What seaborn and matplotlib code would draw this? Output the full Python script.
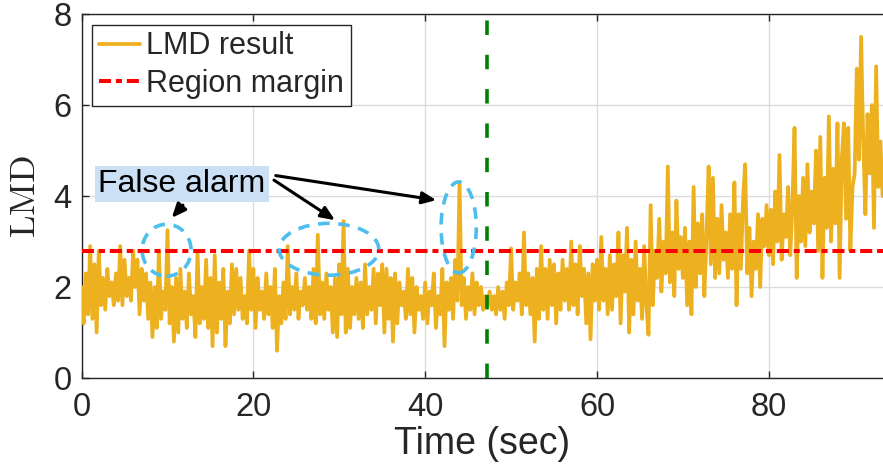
import numpy as np
import pandas as pd
import matplotlib
matplotlib.use("Agg")
import matplotlib.pyplot as plt
from matplotlib.patches import Ellipse
import seaborn as sns

# ---------------- data ----------------
sample_step = 0.25  # seconds between samples
lmd_values = [
    2.0, 1.2, 2.3, 1.4, 2.9, 1.3, 2.5, 1.0,
    2.8, 1.6, 2.2, 1.5, 2.4, 1.8, 2.1, 1.6,
    2.3, 1.7, 2.9, 1.6, 2.6, 1.8, 2.2, 1.7,
    2.8, 2.0, 2.6, 1.4, 2.4, 1.7, 2.3, 1.3,
    2.1, 0.9, 2.0, 1.1, 2.8, 1.3, 1.9, 1.5,
    3.25, 1.2, 2.0, 0.8, 2.2, 1.0, 2.4, 1.3,
    1.9, 1.1, 2.3, 1.4, 1.8, 0.9, 2.8, 1.2,
    2.0, 1.3, 2.6, 1.1, 2.2, 0.7, 2.7, 1.0,
    2.1, 1.3, 2.4, 0.7, 1.9, 1.2, 2.5, 1.4,
    2.4, 1.5, 2.2, 1.3, 1.8, 1.2, 2.8, 1.5,
    2.4, 1.1, 2.2, 1.5, 1.9, 1.3, 2.3, 1.4,
    2.0, 1.1, 2.4, 0.6, 1.8, 1.2, 2.1, 1.3,
    2.9, 1.4, 2.0, 1.5, 2.3, 1.3, 1.9, 1.6,
    2.2, 1.5, 2.0, 1.3, 2.4, 1.2, 3.15, 1.4,
    2.1, 1.3, 2.3, 1.5, 2.0, 1.0, 2.2, 0.9,
    2.5, 1.4, 3.45, 1.0, 2.4, 1.1, 2.0, 1.4,
    2.2, 1.3, 2.1, 1.1, 2.5, 1.4, 2.0, 1.5,
    2.4, 1.2, 2.3, 1.6, 2.5, 1.0, 2.4, 1.3,
    2.2, 0.8, 2.3, 1.2, 2.1, 1.6, 1.9, 1.3,
    2.4, 1.4, 2.2, 1.0, 2.0, 1.5, 1.8, 1.3,
    2.1, 1.2, 1.9, 1.6, 2.3, 1.1, 1.8, 1.4,
    2.4, 0.7, 2.1, 1.5, 2.2, 1.3, 2.6, 1.7,
    4.3, 1.6, 2.2, 1.3, 2.0, 1.5, 2.3, 1.4,
    2.1, 1.6, 2.0, 1.5, 1.8, 1.6, 1.9, 1.5,
    1.8, 1.4, 2.0, 1.5, 1.9, 1.3, 2.1, 1.6,
    2.85, 1.5, 2.1, 1.7, 2.3, 1.4, 3.2, 1.6,
    2.3, 1.4, 2.2, 0.8, 2.4, 1.3, 2.9, 1.5,
    2.4, 1.3, 2.6, 1.6, 2.5, 1.2, 2.3, 1.5,
    2.6, 1.7, 2.4, 1.5, 3.0, 1.6, 2.5, 1.4,
    2.9, 1.8, 2.4, 1.2, 2.3, 0.85, 2.5, 1.7,
    2.6, 1.5, 3.1, 1.7, 2.4, 1.4, 2.7, 1.5,
    2.5, 1.8, 3.2, 1.2, 2.7, 1.9, 3.3, 1.0,
    2.6, 1.4, 3.0, 1.7, 2.4, 1.3, 2.9, 1.6,
    0.95, 3.8, 1.6, 2.8, 2.2, 3.5, 1.9, 3.0,
    2.3, 4.65, 2.1, 3.2, 1.8, 3.9, 2.4, 3.1,
    2.2, 3.3, 1.6, 3.0, 1.4, 4.2, 2.0, 3.4,
    2.3, 3.6, 1.8, 3.1, 4.65, 2.5, 4.4, 2.2,
    3.5, 2.3, 3.8, 2.6, 3.2, 2.2, 3.6, 2.4,
    4.3, 1.6, 3.6, 2.4, 3.9, 4.7, 2.3, 3.3,
    1.8, 3.0, 2.4, 3.6, 2.0, 3.5, 2.9, 3.8,
    2.7, 3.7, 2.5, 4.1, 3.0, 4.9, 2.6, 3.6,
    3.1, 4.2, 2.7, 3.8, 5.5, 2.2, 4.0, 3.0,
    4.4, 2.9, 4.7, 3.2, 4.1, 3.4, 5.0, 2.8,
    5.3, 2.2, 4.4, 3.3, 5.75, 3.0, 4.6, 3.4,
    5.6, 2.2, 4.8, 5.6, 3.5, 5.5, 2.8, 4.2,
    4.5, 6.8, 4.8, 7.5, 5.2, 3.6, 5.8, 4.5,
    6.0, 3.3, 6.85, 4.2, 5.2, 4.0,
]
region_margin = 2.8
change_time = 47.2
x_ticks = [0, 20, 40, 60, 80]
y_ticks = [0, 2, 4, 6, 8]
legend_labels = ["LMD result", "Region margin"]
annotation_text = "False alarm"

time = np.arange(len(lmd_values)) * sample_step
df = pd.DataFrame({"Time": time, "LMD": lmd_values})

# ---------------- style ----------------
sns.set_theme(style="white")
plt.rcParams["font.family"] = ["Liberation Sans", "DejaVu Sans"]
plt.rcParams["mathtext.fontset"] = "cm"

C_YEL = "#EDB120"
C_RED = "#FF0000"
C_GRN = "#008000"
C_CYAN = "#4DBEEE"
C_AX = "#262626"

fig = plt.figure(figsize=(8.83, 4.66), dpi=100)
ax = fig.add_axes([0.0924, 0.1888, 0.9076, 0.781])

sns.lineplot(data=df, x="Time", y="LMD", ax=ax, color=C_YEL, lw=2.7,
             label=legend_labels[0], zorder=3)
ax.axhline(region_margin, color=C_RED, lw=2.9, dashes=(3, 1.2, 1.5, 1.2),
           label=legend_labels[1], zorder=4)
ax.axvline(change_time, color=C_GRN, lw=2.6, dashes=(4, 5.5), zorder=4)

ax.set_xlim(0, 93.3)
ax.set_ylim(0, 8)
ax.set_xticks(x_ticks)
ax.set_yticks(y_ticks)
ax.grid(True, color="#dcdcdc", lw=1.0)
ax.set_axisbelow(True)

for side in ["left", "bottom", "top"]:
    ax.spines[side].set_visible(True)
    ax.spines[side].set_color(C_AX)
    ax.spines[side].set_linewidth(1.0)
ax.spines["right"].set_visible(False)

ax.tick_params(axis="both", which="major", direction="in", length=5,
               width=1, color=C_AX, labelcolor=C_AX, labelsize=23.5,
               top=True, left=True, bottom=True)
ax.tick_params(axis="x", pad=10)
ax.tick_params(axis="y", pad=7)

ax.set_xlabel("Time (sec)", fontsize=27, color=C_AX, labelpad=2)
ax.set_ylabel(r"$\mathrm{LMD}$", fontsize=26, color=C_AX, labelpad=8)

leg = ax.legend(loc="upper left", fontsize=22, frameon=True, fancybox=False,
                edgecolor=C_AX, framealpha=1, borderpad=0.22, labelspacing=0.25,
                handlelength=1.35, handletextpad=0.2, borderaxespad=0.35)
leg.get_frame().set_linewidth(1.0)

# ellipses marking false alarms
for (cx, cy, w, h) in [(9.9, 2.81, 5.7, 1.14), (28.8, 2.83, 11.6, 1.14),
                       (43.9, 3.31, 4.1, 2.0)]:
    ax.add_patch(Ellipse((cx, cy), w, h, fill=False, edgecolor=C_CYAN,
                         lw=2.6, linestyle=(0, (3.2, 2.4)), zorder=5))

ax.text(11.67, 4.26, annotation_text, fontsize=23, ha="center", va="center",
        color="black", zorder=6,
        bbox=dict(boxstyle="square,pad=0.1", facecolor="#CCE0F5",
                  edgecolor="none"))

arrow_kw = dict(arrowstyle="-|>,head_length=0.7,head_width=0.3", color="black",
                lw=2.2, shrinkA=0, shrinkB=0)
ax.annotate("", xy=(10.5, 3.52), xytext=(11.8, 3.80), arrowprops=arrow_kw, zorder=6)
ax.annotate("", xy=(29.5, 3.47), xytext=(22.4, 4.35), arrowprops=arrow_kw, zorder=6)
ax.annotate("", xy=(41.3, 3.91), xytext=(22.6, 4.45), arrowprops=arrow_kw, zorder=6)

fig.savefig("out.png", dpi=100)
